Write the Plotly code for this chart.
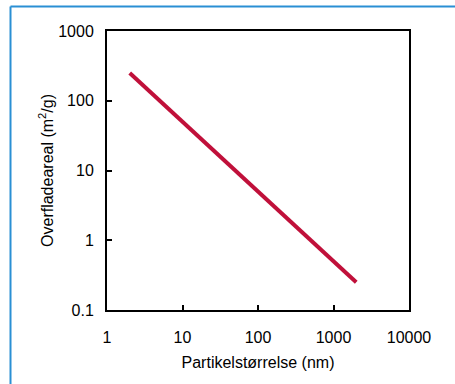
import plotly.graph_objects as go

# Data (specific surface area vs particle size)
particle_size_nm = [2, 10, 100, 1000, 2000]
surface_area_m2g = [250, 50, 5, 0.5, 0.25]

x_tick_vals = [1, 10, 100, 1000, 10000]
x_tick_text = ["1", "10", "100", "1000", "10000"]
y_tick_vals = [0.1, 1, 10, 100, 1000]
y_tick_text = ["0.1", "1", "10", "100", "1000"]

FONT = "Liberation Sans, Arial, sans-serif"

fig = go.Figure()
fig.add_trace(go.Scatter(
    x=particle_size_nm, y=surface_area_m2g, mode="lines",
    line=dict(color="#c0103a", width=4), showlegend=False,
))

W, H = 455, 384
ml, mr, mt, mb = 107, 46, 31, 74
pw, ph = W - ml - mr, H - mt - mb

def px(xp):
    return (xp - ml) / pw

def py(yp):
    return (H - mb - yp) / ph

border = "#2a8fd4"
fig.add_shape(type="line", xref="paper", yref="paper",
              x0=px(10.5), x1=px(10.5), y0=py(6.5), y1=py(H + 2),
              line=dict(color=border, width=2))
fig.add_shape(type="line", xref="paper", yref="paper",
              x0=px(10.5), x1=px(W + 2), y0=py(6.5), y1=py(6.5),
              line=dict(color=border, width=2))

axis_common = dict(
    type="log", showline=True, linecolor="black", linewidth=2, mirror=True,
    ticks="inside", ticklen=5, tickwidth=1.5, tickcolor="black",
    showgrid=False, zeroline=False,
    tickfont=dict(family=FONT, size=16, color="black"),
)

fig.update_xaxes(
    **axis_common, range=[0, 4],
    tickvals=x_tick_vals, ticktext=x_tick_text, ticklabelstandoff=12,
    title=dict(text="Partikelstørrelse (nm)", font=dict(family=FONT, size=16, color="black"), standoff=12),
)
fig.update_yaxes(
    **axis_common, range=[-1, 3],
    tickvals=y_tick_vals, ticktext=y_tick_text, ticklabelstandoff=8,
    title=dict(text="Overfladeareal (m<sup>2</sup>/g)", font=dict(family=FONT, size=16, color="black"), standoff=1),
)

fig.update_layout(
    width=W, height=H,
    margin=dict(l=ml, r=mr, t=mt, b=mb),
    paper_bgcolor="white", plot_bgcolor="white",
    font=dict(family=FONT, size=16, color="black"),
)

fig.write_html("out.html", config={"displayModeBar": False},
               post_script="document.body.style.margin='0';")
